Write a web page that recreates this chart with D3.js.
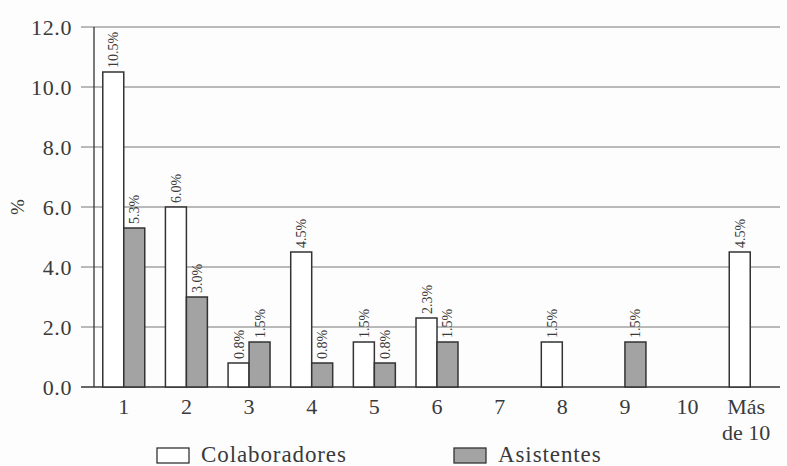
<!DOCTYPE html>
<html>
<head>
<meta charset="utf-8">
<script src="https://cdn.jsdelivr.net/npm/d3@7"></script>
<style>
  html, body { margin: 0; padding: 0; background: #fdfdfd; }
  svg { display: block; }
  text { font-family: "Liberation Serif", "DejaVu Serif", serif; fill: #3a3a3a; }
</style>
</head>
<body>
<svg id="chart" width="787" height="466"></svg>
<script>
// Distribution of collaborators and assistants by count
const categories = ["1", "2", "3", "4", "5", "6", "7", "8", "9", "10", "Más de 10"];
const colaboradores = [10.5, 6.0, 0.8, 4.5, 1.5, 2.3, 0, 1.5, 0, 0, 4.5];
const asistentes    = [5.3, 3.0, 1.5, 0.8, 0.8, 1.5, 0, 0, 1.5, 0, 0];
const seriesNames = ["Colaboradores", "Asistentes"];
const yTicks = [0, 2, 4, 6, 8, 10, 12];

const svg = d3.select("#chart");
const plotLeft = 94, plotRight = 780, plotTop = 27, plotBottom = 387;

const x = d3.scaleBand().domain(categories).range([plotLeft, plotRight]).paddingInner(0.33).paddingOuter(0.14);
const xs = d3.scaleBand().domain(seriesNames).range([0, x.bandwidth()]);
const y = d3.scaleLinear().domain([0, 12]).range([plotBottom, plotTop]);

// gridlines with short ticks left of the axis
const grid = svg.append("g");
grid.selectAll("line").data(yTicks).join("line")
  .attr("x1", plotLeft - 13).attr("x2", plotRight)
  .attr("y1", d => y(d)).attr("y2", d => y(d))
  .attr("stroke", d => d === 0 ? "#333" : "#777")
  .attr("stroke-width", d => d === 0 ? 1.5 : 1);

// y axis line
svg.append("line").attr("x1", plotLeft).attr("x2", plotLeft).attr("y1", y(12)).attr("y2", y(0))
  .attr("stroke", "#333").attr("stroke-width", 1.3);

// y tick labels
svg.append("g").selectAll("text").data(yTicks).join("text")
  .attr("x", 72).attr("y", d => y(d)).attr("dy", "0.35em")
  .attr("text-anchor", "end").attr("font-size", 22).attr("letter-spacing", 0.6)
  .text(d => d.toFixed(1));

// y axis title
svg.append("text").attr("transform", `translate(24,${(plotTop + plotBottom) / 2}) rotate(-90)`)
  .attr("text-anchor", "middle").attr("font-size", 19).text("%");

const data = categories.map((c, i) => ({
  cat: c,
  vals: [
    { s: "Colaboradores", v: colaboradores[i] },
    { s: "Asistentes", v: asistentes[i] }
  ]
}));

const fills = { "Colaboradores": "#ffffff", "Asistentes": "#a3a3a3" };

const groups = svg.append("g").selectAll("g").data(data).join("g")
  .attr("transform", d => `translate(${x(d.cat)},0)`);

const bars = groups.selectAll("g").data(d => d.vals.filter(e => e.v > 0)).join("g");
bars.append("rect")
  .attr("x", d => xs(d.s)).attr("width", xs.bandwidth())
  .attr("y", d => y(d.v)).attr("height", d => y(0) - y(d.v))
  .attr("fill", d => fills[d.s]).attr("stroke", "#333").attr("stroke-width", 1.5);
bars.append("text")
  .attr("transform", d => `translate(${xs(d.s) + xs.bandwidth() / 2 + 5},${y(d.v) - 4}) rotate(-90)`)
  .attr("font-size", 14).attr("text-anchor", "start").attr("fill", "#555")
  .text(d => d.v.toFixed(1) + "%");

// x labels
const xl = svg.append("g").selectAll("text").data(categories).join("text")
  .attr("x", d => x(d) + x.bandwidth() / 2).attr("y", 414)
  .attr("text-anchor", "middle").attr("font-size", 22);
xl.each(function(d) {
  const words = d === "Más de 10" ? ["Más", "de 10"] : [d];
  const t = d3.select(this);
  words.forEach((w, i) => t.append("tspan").attr("x", x(d) + x.bandwidth() / 2 - (words.length > 1 ? 4 : 0)).attr("dy", i ? 26 : 0).text(w));
});

// legend
const legendItems = [
  { name: "Colaboradores", box: 157, tx: 201 },
  { name: "Asistentes", box: 454, tx: 498 }
];
const lg = svg.append("g").selectAll("g").data(legendItems).join("g");
lg.append("rect").attr("x", d => d.box).attr("y", 448).attr("width", 32).attr("height", 15)
  .attr("fill", d => fills[d.name]).attr("stroke", "#333").attr("stroke-width", 1.3);
lg.append("text").attr("x", d => d.tx).attr("y", 462).attr("font-size", 23).attr("letter-spacing", 0.9).text(d => d.name);
</script>
</body>
</html>
